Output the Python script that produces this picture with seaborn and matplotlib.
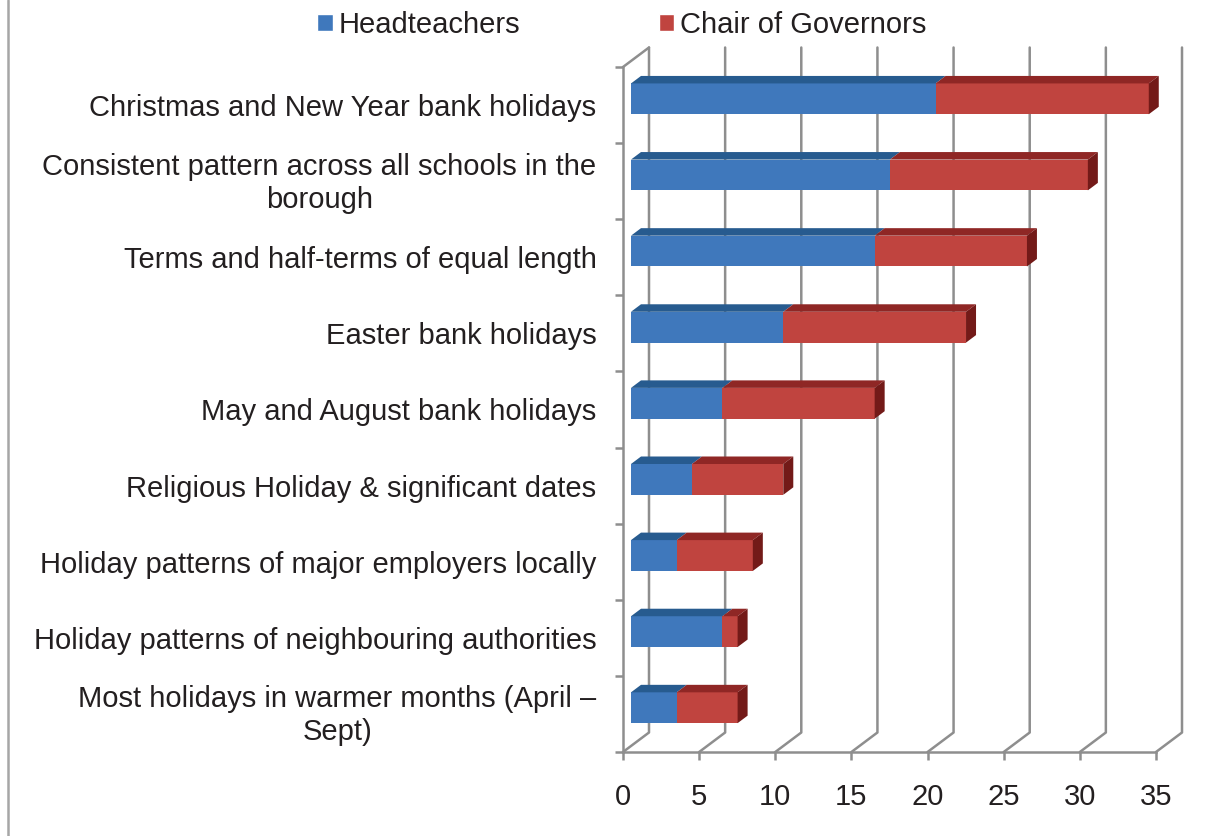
import numpy as np
import pandas as pd
import matplotlib
matplotlib.use("Agg")
import matplotlib.pyplot as plt
import seaborn as sns
from matplotlib.lines import Line2D
from matplotlib.patches import Patch, Polygon
from matplotlib.transforms import Affine2D, IdentityTransform

categories = [
    "Christmas and New Year bank holidays",
    "Consistent pattern across all schools in the\nborough",
    "Terms and half-terms of equal length",
    "Easter bank holidays",
    "May and August bank holidays",
    "Religious Holiday & significant dates",
    "Holiday patterns of major employers locally",
    "Holiday patterns of neighbouring authorities",
    "Most holidays in warmer months (April \u2013\nSept)",
]
headteachers = [20, 17, 16, 10, 6, 4, 3, 6, 3]
chairs = [14, 13, 10, 12, 10, 6, 5, 1, 4]
x_ticks = [0, 5, 10, 15, 20, 25, 30, 35]

W, H = 1215, 836
GRID = "#8e8e8e"
TEXT = "#231f20"
BLUE, BLUE_TOP = "#3f78bc", "#275b8f"
RED, RED_TOP, RED_SIDE = "#c0443f", "#8f2725", "#731a18"
FONT = 21.0
BAR_W = 0.405

sns.set_style("white")
plt.rcParams["font.family"] = ["Liberation Sans", "DejaVu Sans"]
plt.rcParams["text.color"] = TEXT

df = pd.DataFrame({
    "category": categories,
    "head": headteachers,
    "total": np.add(headteachers, chairs),
})

fig = plt.figure(figsize=(W / 100, H / 100), dpi=100)
ax = fig.add_axes([623 / W, 1 - 752 / H, 533 / W, 685 / H])

# stacked look: totals first, then the blue part over them
sns.barplot(data=df, y="category", x="total", color=RED, saturation=1, width=BAR_W, orient="h", ax=ax, zorder=3, linewidth=0)
sns.barplot(data=df, y="category", x="head", color=BLUE, saturation=1, width=BAR_W, orient="h", ax=ax, zorder=4, linewidth=0)

ax.set_xlim(0, 35)
ax.set_ylim(len(categories) - 0.5, -0.5)
ax.set_xlabel("")
ax.set_ylabel("")
ax.set_xticks(x_ticks)
ax.set_yticks(np.arange(len(categories) + 1) - 0.5, minor=True)
ax.patch.set_alpha(0)

for side in ["top", "right"]:
    ax.spines[side].set_visible(False)
for side in ["left", "bottom"]:
    ax.spines[side].set_color(GRID)
    ax.spines[side].set_linewidth(1.8)
ax.tick_params(axis="x", bottom=True, length=6, width=1.8, color=GRID, pad=16, labelsize=FONT, labelcolor=TEXT)
ax.tick_params(axis="y", which="major", length=0, pad=19, labelsize=FONT, labelcolor=TEXT)
ax.tick_params(axis="y", which="minor", length=6, width=1.8, color=GRID, left=True)
for lab in ax.get_yticklabels():
    lab.set_multialignment("center")
    lab.set_linespacing(1.23)
    if "\n" in lab.get_text():
        lab.set_va("center")
        lab.set_transform(lab.get_transform() + Affine2D().translate(0, -2))


def px(x, y, dx=0, dy=0):
    # data position -> display pixels, with a depth shift
    p = ax.transData.transform((x, y))
    return (p[0] + dx, p[1] + dy)


def face(points, color, z):
    ax.add_patch(Polygon(points, closed=True, facecolor=color, edgecolor="none",
                         transform=IdentityTransform(), clip_on=False, zorder=z))


# back wall and floor lines
floor, ceil = len(categories) - 0.5, -0.5
WALL_X, WALL_Y = 26, 19.5
for t in x_ticks:
    a = px(t, floor)
    b = px(t, floor, WALL_X, WALL_Y)
    c = px(t, ceil, WALL_X, WALL_Y)
    ax.add_line(Line2D([a[0], b[0], c[0]], [a[1], b[1], c[1]], color=GRID, lw=1.8,
                       transform=IdentityTransform(), clip_on=False, zorder=1))
a = px(0, ceil)
b = px(0, ceil, WALL_X, WALL_Y)
ax.add_line(Line2D([a[0], b[0]], [a[1], b[1]], color=GRID, lw=1.8,
                   transform=IdentityTransform(), clip_on=False, zorder=1))

# 3d bars: front faces moved into the depth, top and end faces worked out from them
FX, FY = 8, 6.2
DX, DY = 10, 7.5
shift = ax.transData + Affine2D().translate(FX, FY)
for bar in ax.patches[:len(categories) * 2]:
    bar.set_transform(shift)
    bar.set_clip_on(False)

for i, (h, t) in enumerate(zip(df["head"], df["total"])):
    up, low = i - BAR_W / 2, i + BAR_W / 2
    face([px(0, up, FX, FY), px(h, up, FX, FY), px(h, up, FX + DX, FY + DY), px(0, up, FX + DX, FY + DY)], BLUE_TOP, 5)
    face([px(h, up, FX, FY), px(t, up, FX, FY), px(t, up, FX + DX, FY + DY), px(h, up, FX + DX, FY + DY)], RED_TOP, 5)
    face([px(t, up, FX, FY), px(t, low, FX, FY), px(t, low, FX + DX, FY + DY), px(t, up, FX + DX, FY + DY)], RED_SIDE, 5)

handles = [Patch(facecolor=BLUE, label="Headteachers"), Patch(facecolor=RED, label="Chair of Governors")]
fig.legend(handles=handles, ncol=2, loc="upper left", bbox_to_anchor=(317.5 / W, 1 - 11 / H), frameon=False,
           fontsize=FONT, handlelength=0.52, handleheight=0.52, handletextpad=0.2, columnspacing=4.75,
           borderpad=0, borderaxespad=0)

# page border on the left
fig.add_artist(Line2D([8 / W, 8 / W], [0, 1], color="#a6a6a6", lw=1.8))

fig.savefig("out.png", dpi=100)
